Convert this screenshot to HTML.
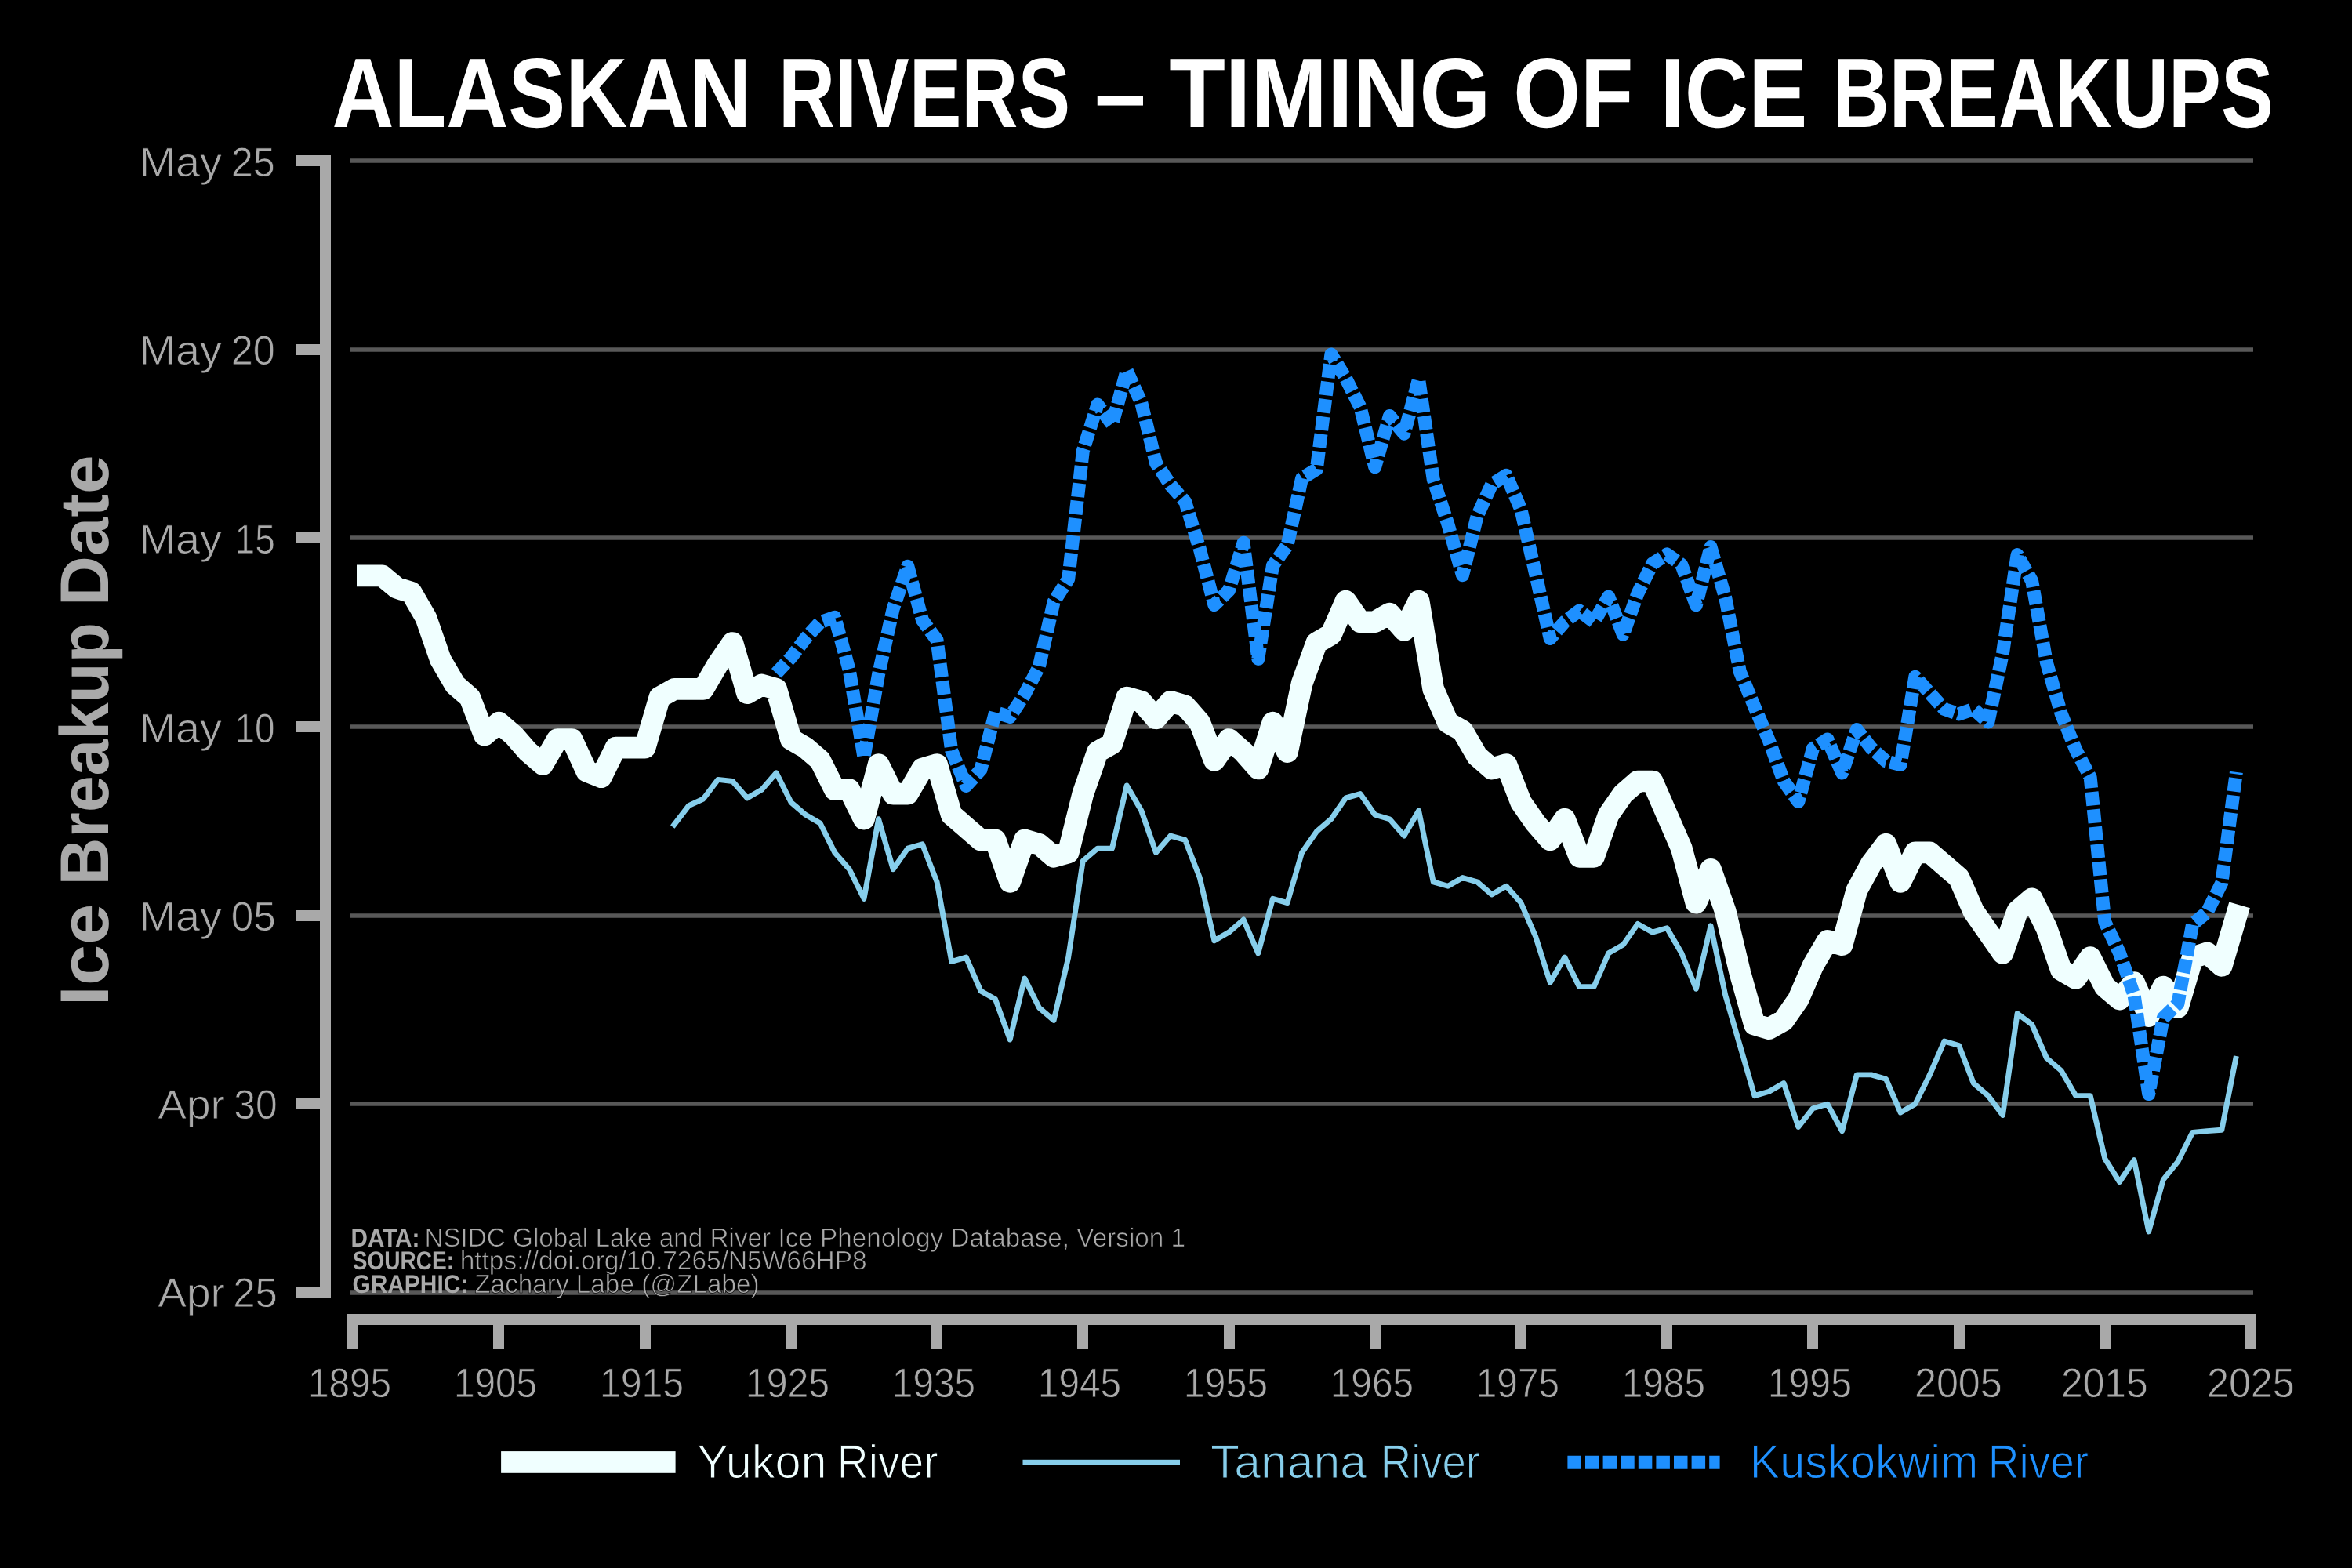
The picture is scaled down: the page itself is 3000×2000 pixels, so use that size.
<!DOCTYPE html>
<html lang="en"><head><meta charset="utf-8"><title>Alaskan Rivers - Timing of Ice Breakups</title>
<style>html,body{margin:0;padding:0;background:#000;}svg{display:block;}text{font-family:"Liberation Sans",sans-serif;text-rendering:geometricPrecision;}</style></head><body>
<svg width="3000" height="2000" viewBox="0 0 3000 2000">
<rect width="3000" height="2000" fill="#000"/>
<g stroke="#585858" stroke-width="5.6">
<line x1="447" y1="205" x2="2874" y2="205"/>
<line x1="447" y1="446" x2="2874" y2="446"/>
<line x1="447" y1="686" x2="2874" y2="686"/>
<line x1="447" y1="927" x2="2874" y2="927"/>
<line x1="447" y1="1168" x2="2874" y2="1168"/>
<line x1="447" y1="1408" x2="2874" y2="1408"/>
<line x1="447" y1="1649" x2="2874" y2="1649"/>
</g>
<g fill="#a9a9a9">
<rect x="408" y="198" width="14" height="1458"/>
<rect x="443" y="1676" width="2435" height="14"/>
<rect x="377" y="198" width="32" height="14"/>
<rect x="377" y="439" width="32" height="14"/>
<rect x="377" y="679" width="32" height="14"/>
<rect x="377" y="920" width="32" height="14"/>
<rect x="377" y="1161" width="32" height="14"/>
<rect x="377" y="1401" width="32" height="14"/>
<rect x="377" y="1642" width="32" height="14"/>
<rect x="443" y="1689" width="14" height="32"/>
<rect x="629" y="1689" width="14" height="32"/>
<rect x="816" y="1689" width="14" height="32"/>
<rect x="1002" y="1689" width="14" height="32"/>
<rect x="1188" y="1689" width="14" height="32"/>
<rect x="1374" y="1689" width="14" height="32"/>
<rect x="1561" y="1689" width="14" height="32"/>
<rect x="1747" y="1689" width="14" height="32"/>
<rect x="1933" y="1689" width="14" height="32"/>
<rect x="2119" y="1689" width="14" height="32"/>
<rect x="2305" y="1689" width="14" height="32"/>
<rect x="2492" y="1689" width="14" height="32"/>
<rect x="2678" y="1689" width="14" height="32"/>
<rect x="2864" y="1689" width="14" height="32"/>
</g>
<polyline points="857.8,1054.7 878.5,1027.6 897.1,1019.0 915.8,994.4 934.4,996.5 953.0,1017.9 971.6,1007.2 990.2,985.8 1008.9,1023.3 1027.5,1039.3 1046.1,1050.0 1064.7,1087.4 1083.3,1108.8 1102.0,1146.3 1120.6,1044.7 1139.2,1108.8 1157.8,1082.1 1176.5,1076.7 1195.1,1124.9 1213.7,1226.5 1232.3,1221.1 1250.9,1263.9 1269.6,1274.6 1288.2,1326.0 1306.8,1247.9 1325.4,1285.3 1344.1,1301.4 1362.7,1221.1 1381.3,1098.1 1399.9,1082.1 1418.5,1082.1 1437.2,1001.9 1455.8,1034.0 1474.4,1087.4 1493.0,1066.1 1511.7,1071.4 1530.3,1119.5 1548.9,1199.8 1567.5,1189.1 1586.1,1173.0 1604.8,1215.8 1623.4,1146.3 1642.0,1151.6 1660.6,1087.4 1679.3,1060.7 1697.9,1044.7 1716.5,1017.9 1735.1,1012.6 1753.7,1039.3 1772.4,1044.7 1791.0,1066.1 1809.6,1034.0 1828.2,1124.9 1846.9,1130.2 1865.5,1119.5 1884.1,1124.9 1902.7,1140.9 1921.3,1130.2 1940.0,1151.6 1958.6,1194.4 1977.2,1253.2 1995.8,1221.1 2014.4,1258.6 2033.1,1258.6 2051.7,1215.8 2070.3,1205.1 2088.9,1178.4 2107.6,1189.1 2126.2,1183.7 2144.8,1215.8 2163.4,1261.2 2182.0,1180.8 2200.7,1269.3 2219.3,1333.5 2237.9,1397.6 2256.5,1392.3 2275.2,1381.6 2293.8,1437.4 2312.4,1413.7 2331.0,1408.3 2349.6,1442.6 2368.3,1370.9 2386.9,1370.9 2405.5,1376.2 2424.1,1419.0 2442.8,1408.3 2461.4,1370.9 2480.0,1328.1 2498.6,1333.5 2517.2,1381.6 2535.9,1397.6 2554.5,1422.4 2573.1,1292.8 2591.7,1306.7 2610.4,1349.5 2629.0,1365.5 2647.6,1397.6 2666.2,1397.6 2684.8,1477.9 2703.5,1507.7 2722.1,1479.6 2740.7,1570.9 2759.3,1504.6 2777.9,1481.6 2796.6,1444.4 2815.2,1442.6 2833.8,1441.3 2852.4,1347.0" fill="none" stroke="#87ceeb" stroke-width="6.9" stroke-linejoin="round" stroke-linecap="butt"/>
<polyline points="455.0,734.4 468.8,734.4 487.4,734.4 506.1,749.9 524.7,755.8 543.3,787.9 561.9,841.4 580.6,873.5 599.2,889.6 617.8,937.7 636.4,921.7 655.0,937.7 673.7,959.1 692.3,975.1 710.9,943.0 729.5,943.0 748.2,983.6 766.8,991.2 785.4,953.7 804.0,953.7 822.6,953.7 841.3,889.6 859.9,878.9 878.5,878.9 897.1,878.9 915.8,846.8 934.4,820.0 953.0,884.2 971.6,873.5 990.2,878.9 1008.9,943.0 1027.5,953.7 1046.1,969.8 1064.7,1007.2 1083.3,1007.2 1102.0,1044.7 1120.6,975.1 1139.2,1012.6 1157.8,1012.6 1176.5,980.5 1195.1,975.1 1213.7,1039.3 1232.3,1055.4 1250.9,1071.4 1269.6,1071.4 1288.2,1124.9 1306.8,1071.4 1325.4,1076.7 1344.1,1092.8 1362.7,1087.4 1381.3,1012.6 1399.9,959.1 1418.5,948.4 1437.2,889.6 1455.8,894.9 1474.4,916.3 1493.0,894.9 1511.7,900.3 1530.3,921.7 1548.9,969.8 1567.5,943.0 1586.1,959.1 1604.8,980.5 1623.4,921.7 1642.0,959.1 1660.6,871.8 1679.3,820.0 1697.9,809.3 1716.5,766.6 1735.1,793.3 1753.7,793.3 1772.4,782.6 1791.0,804.0 1809.6,766.6 1828.2,878.9 1846.9,921.7 1865.5,932.3 1884.1,964.4 1902.7,980.5 1921.3,975.1 1940.0,1023.3 1958.6,1050.0 1977.2,1071.4 1995.8,1044.7 2014.4,1092.8 2033.1,1092.8 2051.7,1039.3 2070.3,1012.6 2088.9,996.5 2107.6,996.5 2126.2,1039.3 2144.8,1082.1 2163.4,1151.6 2182.0,1108.8 2200.7,1162.3 2219.3,1240.5 2237.9,1306.7 2256.5,1312.1 2275.2,1301.4 2293.8,1274.6 2312.4,1231.8 2331.0,1199.8 2349.6,1205.1 2368.3,1135.6 2386.9,1101.5 2405.5,1076.7 2424.1,1124.9 2442.8,1087.4 2461.4,1087.4 2480.0,1103.5 2498.6,1119.5 2517.2,1162.3 2535.9,1189.1 2554.5,1215.8 2573.1,1162.3 2591.7,1146.3 2610.4,1183.7 2629.0,1237.2 2647.6,1247.9 2666.2,1221.1 2684.8,1258.6 2703.5,1274.6 2722.1,1253.2 2740.7,1296.0 2759.3,1258.6 2777.9,1285.0 2796.6,1221.5 2815.2,1215.5 2833.8,1231.8 2856.6,1154.4" fill="none" stroke="#f0ffff" stroke-width="27.7" stroke-linejoin="round" stroke-linecap="butt"/>
<polyline points="990.2,858.8 1008.9,838.7 1027.5,814.2 1046.1,793.7 1064.7,787.2 1083.3,855.0 1102.0,966.0 1120.6,860.0 1139.2,776.5 1157.8,722.2 1176.5,790.9 1195.1,816.5 1213.7,957.6 1232.3,1002.4 1250.9,981.8 1269.6,908.5 1288.2,914.4 1306.8,885.9 1325.4,850.0 1344.1,767.8 1362.7,738.5 1381.3,575.2 1399.9,516.0 1418.5,541.3 1437.2,472.8 1455.8,514.0 1474.4,590.5 1493.0,618.6 1511.7,640.0 1530.3,700.2 1548.9,771.6 1567.5,753.0 1586.1,692.2 1604.8,840.4 1623.4,721.5 1642.0,695.5 1660.6,610.0 1679.3,598.6 1697.9,451.9 1716.5,482.5 1735.1,519.5 1753.7,595.8 1772.4,530.5 1791.0,553.2 1809.6,483.6 1828.2,611.3 1846.9,668.7 1865.5,733.7 1884.1,658.5 1902.7,617.7 1921.3,606.2 1940.0,650.0 1958.6,731.8 1977.2,814.5 1995.8,793.0 2014.4,779.0 2033.1,793.3 2051.7,761.0 2070.3,809.4 2088.9,757.0 2107.6,719.0 2126.2,707.0 2144.8,720.3 2163.4,771.8 2182.0,697.6 2200.7,762.4 2219.3,856.8 2237.9,901.7 2256.5,945.0 2275.2,996.3 2293.8,1022.6 2312.4,954.7 2331.0,943.0 2349.6,986.0 2368.3,930.5 2386.9,954.2 2405.5,970.8 2424.1,975.5 2442.8,863.2 2461.4,884.1 2480.0,904.5 2498.6,910.9 2517.2,904.5 2535.9,921.0 2554.5,833.0 2573.1,707.6 2591.7,741.2 2610.4,845.0 2629.0,910.0 2647.6,956.2 2666.2,991.6 2684.8,1176.0 2703.5,1215.5 2722.1,1269.4 2740.7,1395.6 2759.3,1298.4 2777.9,1280.1 2796.6,1179.0 2815.2,1163.4 2833.8,1126.2 2852.4,984.9" fill="none" stroke="#1e90ff" stroke-width="17" stroke-linejoin="round" stroke-linecap="butt" stroke-dasharray="17.5 4.9"/>
<g style="filter:opacity(1)">
<text fill="#ffffff"><tspan x="423.45" y="162.3" font-size="126" font-weight="bold" textLength="534.97" lengthAdjust="spacingAndGlyphs">ALASKAN</tspan> <tspan x="993.03" y="162.3" font-size="126" font-weight="bold" textLength="372.18" lengthAdjust="spacingAndGlyphs">RIVERS</tspan> <tspan x="1396.31" y="162.3" font-size="126" font-weight="bold" textLength="65.39" lengthAdjust="spacingAndGlyphs">–</tspan> <tspan x="1491.17" y="162.3" font-size="126" font-weight="bold" textLength="410.35" lengthAdjust="spacingAndGlyphs">TIMING</tspan> <tspan x="1930.35" y="162.3" font-size="126" font-weight="bold" textLength="153.05" lengthAdjust="spacingAndGlyphs">OF</tspan> <tspan x="2117.53" y="162.3" font-size="126" font-weight="bold" textLength="187.73" lengthAdjust="spacingAndGlyphs">ICE</tspan> <tspan x="2337.38" y="162.3" font-size="126" font-weight="bold" textLength="562.37" lengthAdjust="spacingAndGlyphs">BREAKUPS</tspan></text>
<text fill="#a9a9a9"><tspan x="177.43" y="224.7" font-size="52.7" stroke="#000" stroke-width="0.8" textLength="105.44" lengthAdjust="spacingAndGlyphs">May</tspan> <tspan x="294.63" y="224.7" font-size="52.7" stroke="#000" stroke-width="0.8" textLength="56.02" lengthAdjust="spacingAndGlyphs">25</tspan></text>
<text fill="#a9a9a9"><tspan x="177.43" y="465.4" font-size="52.7" stroke="#000" stroke-width="0.8" textLength="105.44" lengthAdjust="spacingAndGlyphs">May</tspan> <tspan x="294.63" y="465.4" font-size="52.7" stroke="#000" stroke-width="0.8" textLength="56.02" lengthAdjust="spacingAndGlyphs">20</tspan></text>
<text fill="#a9a9a9"><tspan x="177.43" y="706.0" font-size="52.7" stroke="#000" stroke-width="0.8" textLength="105.44" lengthAdjust="spacingAndGlyphs">May</tspan> <tspan x="299.54" y="706.0" font-size="52.7" stroke="#000" stroke-width="0.8" textLength="51.21" lengthAdjust="spacingAndGlyphs">15</tspan></text>
<text fill="#a9a9a9"><tspan x="177.43" y="946.7" font-size="52.7" stroke="#000" stroke-width="0.8" textLength="105.44" lengthAdjust="spacingAndGlyphs">May</tspan> <tspan x="299.52" y="946.7" font-size="52.7" stroke="#000" stroke-width="0.8" textLength="51.10" lengthAdjust="spacingAndGlyphs">10</tspan></text>
<text fill="#a9a9a9"><tspan x="177.43" y="1187.4" font-size="52.7" stroke="#000" stroke-width="0.8" textLength="105.44" lengthAdjust="spacingAndGlyphs">May</tspan> <tspan x="294.68" y="1187.4" font-size="52.7" stroke="#000" stroke-width="0.8" textLength="57.02" lengthAdjust="spacingAndGlyphs">05</tspan></text>
<text fill="#a9a9a9"><tspan x="201.25" y="1426.6" font-size="52.7" stroke="#000" stroke-width="0.8" textLength="85.61" lengthAdjust="spacingAndGlyphs">Apr</tspan> <tspan x="298.24" y="1426.6" font-size="52.7" stroke="#000" stroke-width="0.8" textLength="55.52" lengthAdjust="spacingAndGlyphs">30</tspan></text>
<text fill="#a9a9a9"><tspan x="201.25" y="1667.3" font-size="52.7" stroke="#000" stroke-width="0.8" textLength="85.61" lengthAdjust="spacingAndGlyphs">Apr</tspan> <tspan x="297.23" y="1667.3" font-size="52.7" stroke="#000" stroke-width="0.8" textLength="56.54" lengthAdjust="spacingAndGlyphs">25</tspan></text>
<text fill="#a9a9a9"><tspan x="392.94" y="1782.4" font-size="52.7" stroke="#000" stroke-width="0.8" textLength="106.18" lengthAdjust="spacingAndGlyphs">1895</tspan></text>
<text fill="#a9a9a9"><tspan x="578.94" y="1782.4" font-size="52.7" stroke="#000" stroke-width="0.8" textLength="106.18" lengthAdjust="spacingAndGlyphs">1905</tspan></text>
<text fill="#a9a9a9"><tspan x="764.89" y="1782.4" font-size="52.7" stroke="#000" stroke-width="0.8" textLength="107.26" lengthAdjust="spacingAndGlyphs">1915</tspan></text>
<text fill="#a9a9a9"><tspan x="950.88" y="1782.4" font-size="52.7" stroke="#000" stroke-width="0.8" textLength="107.26" lengthAdjust="spacingAndGlyphs">1925</tspan></text>
<text fill="#a9a9a9"><tspan x="1137.85" y="1782.4" font-size="52.7" stroke="#000" stroke-width="0.8" textLength="106.19" lengthAdjust="spacingAndGlyphs">1935</tspan></text>
<text fill="#a9a9a9"><tspan x="1323.85" y="1782.4" font-size="52.7" stroke="#000" stroke-width="0.8" textLength="106.18" lengthAdjust="spacingAndGlyphs">1945</tspan></text>
<text fill="#a9a9a9"><tspan x="1509.80" y="1782.4" font-size="52.7" stroke="#000" stroke-width="0.8" textLength="107.25" lengthAdjust="spacingAndGlyphs">1955</tspan></text>
<text fill="#a9a9a9"><tspan x="1696.84" y="1782.4" font-size="52.7" stroke="#000" stroke-width="0.8" textLength="106.19" lengthAdjust="spacingAndGlyphs">1965</tspan></text>
<text fill="#a9a9a9"><tspan x="1882.83" y="1782.4" font-size="52.7" stroke="#000" stroke-width="0.8" textLength="106.12" lengthAdjust="spacingAndGlyphs">1975</tspan></text>
<text fill="#a9a9a9"><tspan x="2068.76" y="1782.4" font-size="52.7" stroke="#000" stroke-width="0.8" textLength="106.18" lengthAdjust="spacingAndGlyphs">1985</tspan></text>
<text fill="#a9a9a9"><tspan x="2254.72" y="1782.4" font-size="52.7" stroke="#000" stroke-width="0.8" textLength="107.24" lengthAdjust="spacingAndGlyphs">1995</tspan></text>
<text fill="#a9a9a9"><tspan x="2441.93" y="1782.4" font-size="52.7" stroke="#000" stroke-width="0.8" textLength="111.90" lengthAdjust="spacingAndGlyphs">2005</tspan></text>
<text fill="#a9a9a9"><tspan x="2628.94" y="1782.4" font-size="52.7" stroke="#000" stroke-width="0.8" textLength="110.84" lengthAdjust="spacingAndGlyphs">2015</tspan></text>
<text fill="#a9a9a9"><tspan x="2814.91" y="1782.4" font-size="52.7" stroke="#000" stroke-width="0.8" textLength="111.90" lengthAdjust="spacingAndGlyphs">2025</tspan></text>
<text fill="#a9a9a9"><tspan x="447.50" y="1589.9" font-size="32.7" font-weight="bold" textLength="87.96" lengthAdjust="spacingAndGlyphs">DATA:</tspan> <tspan x="541.38" y="1590.2" font-size="33.5" stroke="#000" stroke-width="0.7" textLength="970.63" lengthAdjust="spacingAndGlyphs">NSIDC Global Lake and River Ice Phenology Database, Version 1</tspan></text>
<text fill="#a9a9a9"><tspan x="449.77" y="1618.8" font-size="32.7" font-weight="bold" textLength="129.32" lengthAdjust="spacingAndGlyphs">SOURCE:</tspan> <tspan x="586.67" y="1619.1" font-size="33.5" stroke="#000" stroke-width="0.7" textLength="518.94" lengthAdjust="spacingAndGlyphs">https://doi.org/10.7265/N5W66HP8</tspan></text>
<text fill="#a9a9a9"><tspan x="449.45" y="1648.5" font-size="32.7" font-weight="bold" textLength="147.82" lengthAdjust="spacingAndGlyphs">GRAPHIC:</tspan> <tspan x="605.28" y="1648.8" font-size="33.5" stroke="#000" stroke-width="0.7" textLength="363.34" lengthAdjust="spacingAndGlyphs">Zachary Labe (@ZLabe)</tspan></text>
<text fill="#f0ffff"><tspan x="889.36" y="1885.2" font-size="59.8" stroke="#000" stroke-width="1.2" textLength="165.33" lengthAdjust="spacingAndGlyphs">Yukon</tspan> <tspan x="1067.79" y="1885.2" font-size="59.8" stroke="#000" stroke-width="1.2" textLength="128.79" lengthAdjust="spacingAndGlyphs">River</tspan></text>
<text fill="#87ceeb"><tspan x="1543.97" y="1885.2" font-size="59.8" stroke="#000" stroke-width="1.2" textLength="199.04" lengthAdjust="spacingAndGlyphs">Tanana</tspan> <tspan x="1760.77" y="1885.2" font-size="59.8" stroke="#000" stroke-width="1.2" textLength="127.26" lengthAdjust="spacingAndGlyphs">River</tspan></text>
<text fill="#1e90ff"><tspan x="2231.86" y="1885.2" font-size="59.8" stroke="#000" stroke-width="1.2" textLength="291.27" lengthAdjust="spacingAndGlyphs">Kuskokwim</tspan> <tspan x="2535.76" y="1885.2" font-size="59.8" stroke="#000" stroke-width="1.2" textLength="128.32" lengthAdjust="spacingAndGlyphs">River</tspan></text>
</g>
<text transform="translate(138.1,0) rotate(-90)" fill="#a9a9a9" font-weight="bold" font-size="87.8"><tspan x="-1283.20" y="0" textLength="130.43" lengthAdjust="spacingAndGlyphs">Ice</tspan> <tspan x="-1129.13" y="0" textLength="334.92" lengthAdjust="spacingAndGlyphs">Breakup</tspan> <tspan x="-773.30" y="0" textLength="192.84" lengthAdjust="spacingAndGlyphs">Date</tspan></text>
<rect x="639.1" y="1851.1" width="222.5" height="27.7" fill="#f0ffff"/>
<rect x="1304.5" y="1861.8" width="200.5" height="7" fill="#87ceeb"/>
<line x1="1999.4" y1="1865.3" x2="2193.6" y2="1865.3" stroke="#1e90ff" stroke-width="17" stroke-dasharray="17.5 5.1"/>
</svg></body></html>
